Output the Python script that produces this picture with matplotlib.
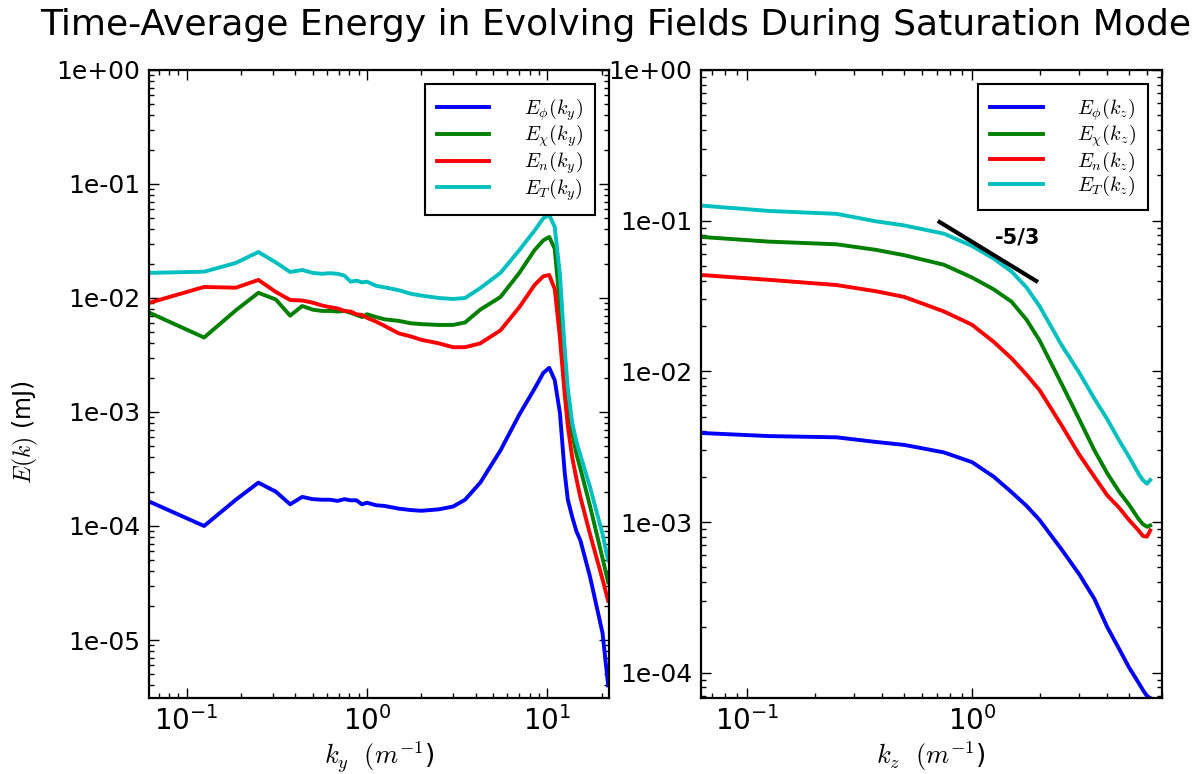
import numpy as np
import matplotlib
matplotlib.use("Agg")
import matplotlib.pyplot as plt
from matplotlib.ticker import FormatStrFormatter, LogLocator

plt.rcParams['mathtext.fontset'] = 'cm'
plt.rcParams['font.family'] = ['DejaVu Sans']

# energy spectra vs k_y
ky = [0.0625, 0.125, 0.1875, 0.25, 0.3125, 0.375, 0.4375, 0.5, 0.5625, 0.625,
      0.6875, 0.75, 0.8125, 0.875, 0.9375, 1.0, 1.125, 1.25, 1.5, 1.75,
      2.0, 2.5, 3.0, 3.5, 4.25, 5.5, 7.0, 8.5, 9.5, 10.25,
      11.0, 11.75, 12.5, 13.0, 13.75, 14.5, 15.25, 17.25, 20.25, 21.75]
Ephi_ky = [1.63e-4, 1.0e-4, 1.7e-4, 2.4e-4, 2.0e-4, 1.55e-4, 1.8e-4, 1.72e-4, 1.7e-4, 1.7e-4,
           1.66e-4, 1.72e-4, 1.68e-4, 1.68e-4, 1.55e-4, 1.6e-4, 1.52e-4, 1.5e-4, 1.42e-4, 1.38e-4,
           1.36e-4, 1.4e-4, 1.48e-4, 1.7e-4, 2.4e-4, 4.6e-4, 9.5e-4, 1.6e-3, 2.2e-3, 2.44e-3,
           1.9e-3, 9.8e-4, 2.9e-4, 1.7e-4, 1.2e-4, 9.0e-5, 7.5e-5, 3.6e-5, 1.15e-5, 4e-6]
Echi_ky = [0.0074, 0.0045, 0.0078, 0.0111, 0.0097, 0.0070, 0.0085, 0.0079, 0.0077, 0.0077,
           0.0076, 0.0077, 0.0074, 0.0071, 0.0068, 0.0072, 0.0068, 0.0065, 0.0063, 0.0060,
           0.0059, 0.0058, 0.0058, 0.0061, 0.0079, 0.0102, 0.0166, 0.0263, 0.032, 0.0343,
           0.027, 0.0085, 0.0025, 0.0013, 6.5e-4, 4.3e-4, 3.2e-4, 1.5e-4, 5.2e-5, 3.2e-5]
En_ky = [0.0091, 0.0125, 0.0123, 0.0144, 0.0113, 0.0096, 0.0095, 0.0091, 0.0086, 0.0083,
         0.0081, 0.0077, 0.0076, 0.0072, 0.0071, 0.0067, 0.0062, 0.0057, 0.0049, 0.0046,
         0.0043, 0.0040, 0.0037, 0.0037, 0.0040, 0.0052, 0.0083, 0.013, 0.0155, 0.0159,
         0.012, 0.0045, 0.0014, 7.5e-4, 4.0e-4, 2.6e-4, 1.8e-4, 8.5e-5, 3.4e-5, 2.2e-5]
ET_ky = [0.0166, 0.0170, 0.0203, 0.0253, 0.0205, 0.0169, 0.0176, 0.0166, 0.0163, 0.0165,
         0.0163, 0.0157, 0.0139, 0.0142, 0.0137, 0.0139, 0.0128, 0.0124, 0.0117, 0.0109,
         0.0105, 0.0100, 0.0098, 0.0100, 0.0122, 0.0166, 0.0263, 0.039, 0.050, 0.0535,
         0.042, 0.016, 0.0035, 0.0016, 8.0e-4, 5.5e-4, 4.2e-4, 2.2e-4, 8.5e-5, 5.0e-5]

# energy spectra vs k_z
kz = [0.0625, 0.125, 0.25, 0.375, 0.5, 0.75, 1.0, 1.25, 1.5, 1.75,
      2.0, 2.5, 3.0, 3.5, 4.0, 4.5, 5.0, 5.5, 5.75, 6.0, 6.2]
Ephi_kz = [0.0039, 0.00372, 0.00365, 0.0034, 0.00325, 0.0029, 0.0025, 0.0020, 0.00158, 0.00128,
           0.00103, 0.00066, 0.00045, 0.00031, 0.00020, 0.000145, 0.000108, 0.000086, 0.000077, 0.000070, 0.000068]
Echi_kz = [0.078, 0.0726, 0.0697, 0.064, 0.059, 0.051, 0.042, 0.035, 0.029, 0.022,
           0.016, 0.0083, 0.0048, 0.0030, 0.0021, 0.0016, 0.0013, 0.00105, 0.00097, 0.00093, 0.00095]
En_kz = [0.0436, 0.0405, 0.0374, 0.034, 0.0312, 0.025, 0.0204, 0.0157, 0.0122, 0.0095,
         0.0075, 0.0044, 0.0028, 0.0020, 0.0015, 0.00125, 0.00103, 0.00088, 0.00081, 0.00080, 0.00088]
ET_kz = [0.126, 0.116, 0.111, 0.099, 0.093, 0.082, 0.068, 0.056, 0.046, 0.036,
         0.027, 0.0150, 0.0098, 0.0066, 0.0048, 0.0035, 0.0027, 0.0021, 0.0019, 0.0018, 0.0019]

# -5/3 reference segment
slope_k = [0.718, 1.93]
slope_E = [0.098, 0.0398]

colors = ['b', 'g', 'r', 'c']
names = ['\\phi', '\\chi', 'n', 'T']

fig = plt.figure(figsize=(11.97, 7.74), dpi=100)
ax1 = fig.add_axes([0.1242, 0.0982, 0.3846, 0.8114])
ax2 = fig.add_axes([0.5854, 0.0982, 0.3854, 0.8114])

for c, n, E in zip(colors, names, [Ephi_ky, Echi_ky, En_ky, ET_ky]):
    ax1.loglog(ky, E, color=c, lw=2.8, label=r'$E_{%s}(k_y)$' % n)
for c, n, E in zip(colors, names, [Ephi_kz, Echi_kz, En_kz, ET_kz]):
    ax2.loglog(kz, E, color=c, lw=2.8, label=r'$E_{%s}(k_z)$' % n)
ax2.loglog(slope_k, slope_E, color='k', lw=3)
ax2.text(1.6, 0.0768, '-5/3', fontsize=15, fontweight='bold', ha='center', va='center')

ax1.set_xlim(0.0616, 22.0)
ax1.set_ylim(3.1e-6, 1)
ax2.set_xlim(0.0623, 7.0)
ax2.set_ylim(6.8e-5, 1)

for ax in (ax1, ax2):
    ax.yaxis.set_major_formatter(FormatStrFormatter('%.0e'))
    ax.yaxis.set_major_locator(LogLocator(base=10, numticks=10))
    ax.tick_params(which='both', direction='in', top=True, right=True, width=1)
    ax.tick_params(axis='y', labelsize=18)
    ax.tick_params(axis='x', labelsize=20)
    ax.tick_params(which='major', length=7, pad=6)
    ax.tick_params(which='minor', length=3.5)
    for s in ax.spines.values():
        s.set_linewidth(1.6)
    leg = ax.legend(loc='upper right', fontsize=14.5, handlelength=2.6, handletextpad=1.7,
                    fancybox=False, framealpha=1, borderaxespad=0.7, borderpad=0.6,
                    labelspacing=0.0)
    leg.get_frame().set_edgecolor('k')
    leg.get_frame().set_linewidth(1.5)

ax1.set_xlabel(r'$k_y\ \ (m^{-1}$)', fontsize=19, labelpad=2)
ax2.set_xlabel(r'$k_z\ \ (m^{-1}$)', fontsize=19, labelpad=2)
ax1.set_ylabel(r'$E(k)$ (mJ)', fontsize=17)
ax1.yaxis.set_label_coords(-0.235, 0.424)

fig.suptitle('Time-Average Energy in Evolving Fields During Saturation Mode',
             fontsize=26, x=0.514, y=0.99)

fig.savefig('out.png', dpi=100)
